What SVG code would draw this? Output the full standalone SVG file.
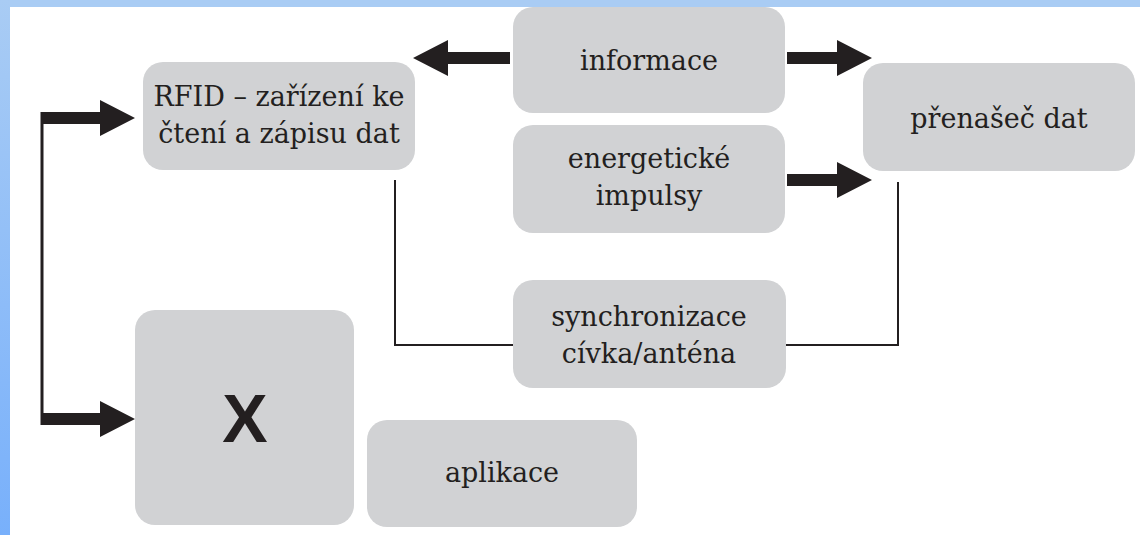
<svg xmlns="http://www.w3.org/2000/svg" width="1140" height="535" viewBox="0 0 1140 535">
  <defs>
    <linearGradient id="sideGrad" x1="0" y1="0" x2="0" y2="1">
      <stop offset="0" stop-color="#a9ccf4"/>
      <stop offset="1" stop-color="#78b0fb"/>
    </linearGradient>
    <style>
      .box { fill: #d1d2d4; }
      .lbl { font-family: "DejaVu Serif", "Liberation Serif", serif; font-size: 27px; fill: #231f20; text-anchor: middle; }
      .big { font-family: "Liberation Sans", Arial, sans-serif; font-weight: bold; font-size: 68px; fill: #231f20; text-anchor: middle; }
      .arrow { fill: #231f20; }
      .wire { fill: none; stroke: #231f20; stroke-width: 2; }
      .wire3 { fill: none; stroke: #231f20; stroke-width: 3; }
    </style>
  </defs>

  <rect x="0" y="0" width="1140" height="535" fill="#ffffff"/>
  <rect x="0" y="0" width="1140" height="7" fill="#a9ccf4"/>
  <rect x="0" y="0" width="10" height="535" fill="url(#sideGrad)"/>

  <g id="connectors">
    <path class="wire" d="M395,180 V345 H515"/>
    <path class="wire" d="M785,345 H898 V182"/>
    <path class="wire3" d="M42,112 V425"/>
    <polygon class="arrow" points="510,52 448,52 448,40 413,58 448,76 448,64 510,64"/>
    <polygon class="arrow" points="787,52 837,52 837,40 872,58 837,76 837,64 787,64"/>
    <polygon class="arrow" points="787,174 837,174 837,162 872,180 837,198 837,186 787,186"/>
    <polygon class="arrow" points="41,112 100,112 100,100 135,118 100,136 100,124 41,124"/>
    <polygon class="arrow" points="41,413 100,413 100,401 135,419 100,437 100,425 41,425"/>
  </g>

  <g id="rfid">
    <rect class="box" x="143" y="62" width="272" height="108" rx="20"/>
    <text class="lbl" x="279" y="106">RFID – zařízení ke</text>
    <text class="lbl" x="279" y="143">čtení a zápisu dat</text>
  </g>

  <g id="informace">
    <rect class="box" x="513" y="7" width="272" height="106" rx="20"/>
    <text class="lbl" x="649" y="70">informace</text>
  </g>

  <g id="energeticke">
    <rect class="box" x="513" y="125" width="272" height="108" rx="20"/>
    <text class="lbl" x="649" y="168">energetické</text>
    <text class="lbl" x="649" y="205">impulsy</text>
  </g>

  <g id="prenasec">
    <rect class="box" x="863" y="63" width="272" height="108" rx="20"/>
    <text class="lbl" x="999" y="128">přenašeč dat</text>
  </g>

  <g id="synchronizace">
    <rect class="box" x="513" y="280" width="273" height="108" rx="20"/>
    <text class="lbl" x="649" y="326">synchronizace</text>
    <text class="lbl" x="649" y="363">cívka/anténa</text>
  </g>

  <g id="x">
    <rect class="box" x="135" y="310" width="219" height="215" rx="20"/>
    <text class="big" x="245" y="442">X</text>
  </g>

  <g id="aplikace">
    <rect class="box" x="367" y="420" width="270" height="107" rx="20"/>
    <text class="lbl" x="502" y="482">aplikace</text>
  </g>
</svg>
